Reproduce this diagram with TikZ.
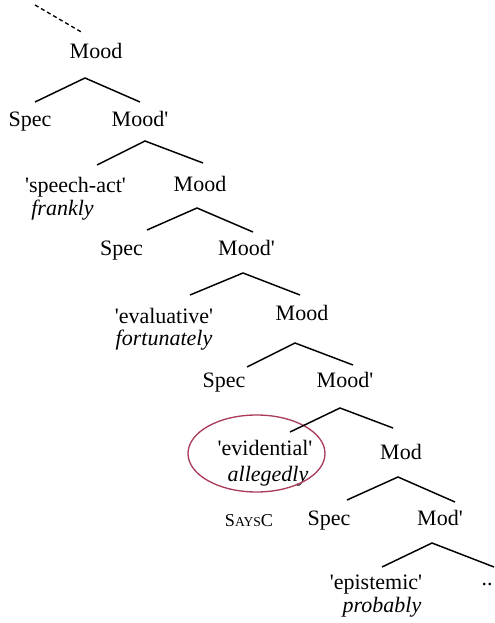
\documentclass[tikz,border=0pt]{standalone}
\usepackage{fontspec}
\setmainfont{Liberation Serif}
\usetikzlibrary{shapes.geometric}
\definecolor{ringred}{RGB}{170,60,90}
\newcommand{\sq}[1]{\textquotesingle#1\textquotesingle}
\newcommand{\pr}{\textquotesingle}

\begin{document}
\begin{tikzpicture}[x=0.75pt,y=-0.75pt,font=\rmfamily\fontsize{16.5}{20}\selectfont,
        lab/.style={anchor=base,inner sep=0pt},
        adv/.style={lab,font=\rmfamily\fontsize{16.5}{20}\selectfont\itshape},
        branch/.style={line width=1.1pt,line join=miter},
    ]
        \useasboundingbox (0,0) rectangle (494,623);

        \coordinate (up) at (35,5);
        \node[lab] (mood1) at (96,59) {Mood};
        \node[lab] (spec1) at (30,127) {Spec};
        \node[lab] (moodbar1) at (140,127) {Mood\pr};
        \node[lab] (sact) at (75.5,193) {\sq{speech-act}};
        \node[adv] (frankly) at (62.5,216) {frankly};
        \node[lab] (mood2) at (200,192) {Mood};
        \node[lab] (spec2) at (121.5,255) {Spec};
        \node[lab] (moodbar2) at (246.5,255) {Mood\pr};
        \node[lab] (evalu) at (164,323) {\sq{evaluative}};
        \node[adv] (fortun) at (164,345) {fortunately};
        \node[lab] (mood3) at (302,320) {Mood};
        \node[lab] (spec3) at (224,387) {Spec};
        \node[lab] (moodbar3) at (345,387) {Mood\pr};
        \node[lab] (evid) at (265,455) {\sq{evidential}};
        \node[adv] (alleg) at (268,481) {allegedly};
        \node[draw=ringred, line width=1pt, ellipse, minimum width=102.75pt,
            minimum height=57.75pt, inner sep=0pt] (ring) at (256.5,453.5) {};
        \node[lab] (mod) at (401,459) {Mod};
        \node[lab] (says) at (249,526) {\fontsize{13.6}{16}\selectfont S{\fontsize{10.2}{12}\selectfont AYS}C};
        \node[lab] (spec4) at (329,525) {Spec};
        \node[lab] (modbar) at (440,525) {Mod\pr};
        \node[lab] (epist) at (376,589) {\sq{epistemic}};
        \node[adv] (prob) at (382,612) {probably};
        \node[lab] (dots) at (487,585) {..};

        \draw[line width=1pt, dash pattern=on 3pt off 2.25pt] (up) -- ([shift={(-13,-26)}]mood1.base);
        \draw[branch] ([shift={(5,-25)}]spec1.base) -- ([shift={(-11,19)}]mood1.base) -- ([shift={(0,-25)}]moodbar1.base);
        \draw[branch] ([shift={(21.5,-28)}]sact.base) -- ([shift={(5,14)}]moodbar1.base) -- ([shift={(3,-29)}]mood2.base);
        \draw[branch] ([shift={(25.5,-25)}]spec2.base) -- ([shift={(-3,16)}]mood2.base) -- ([shift={(6.5,-23)}]moodbar2.base);
        \draw[branch] ([shift={(26,-28)}]evalu.base) -- ([shift={(-3.5,18)}]moodbar2.base) -- ([shift={(-2,-25)}]mood3.base);
        \draw[branch] ([shift={(23,-20)}]spec3.base) -- ([shift={(-7,23)}]mood3.base) -- ([shift={(8,-22)}]moodbar3.base);
        \draw[branch] ([shift={(25,-23)}]evid.base) -- ([shift={(-5,21)}]moodbar3.base) -- ([shift={(-8,-31)}]mod.base);
        \draw[branch] ([shift={(18,-25)}]spec4.base) -- ([shift={(-3,18)}]mod.base) -- ([shift={(15,-23)}]modbar.base);
        \draw[branch] ([shift={(6,-22)}]epist.base) -- ([shift={(-8,18)}]modbar.base) -- ([shift={(7,-18)}]dots.base);
\end{tikzpicture}
\end{document}
